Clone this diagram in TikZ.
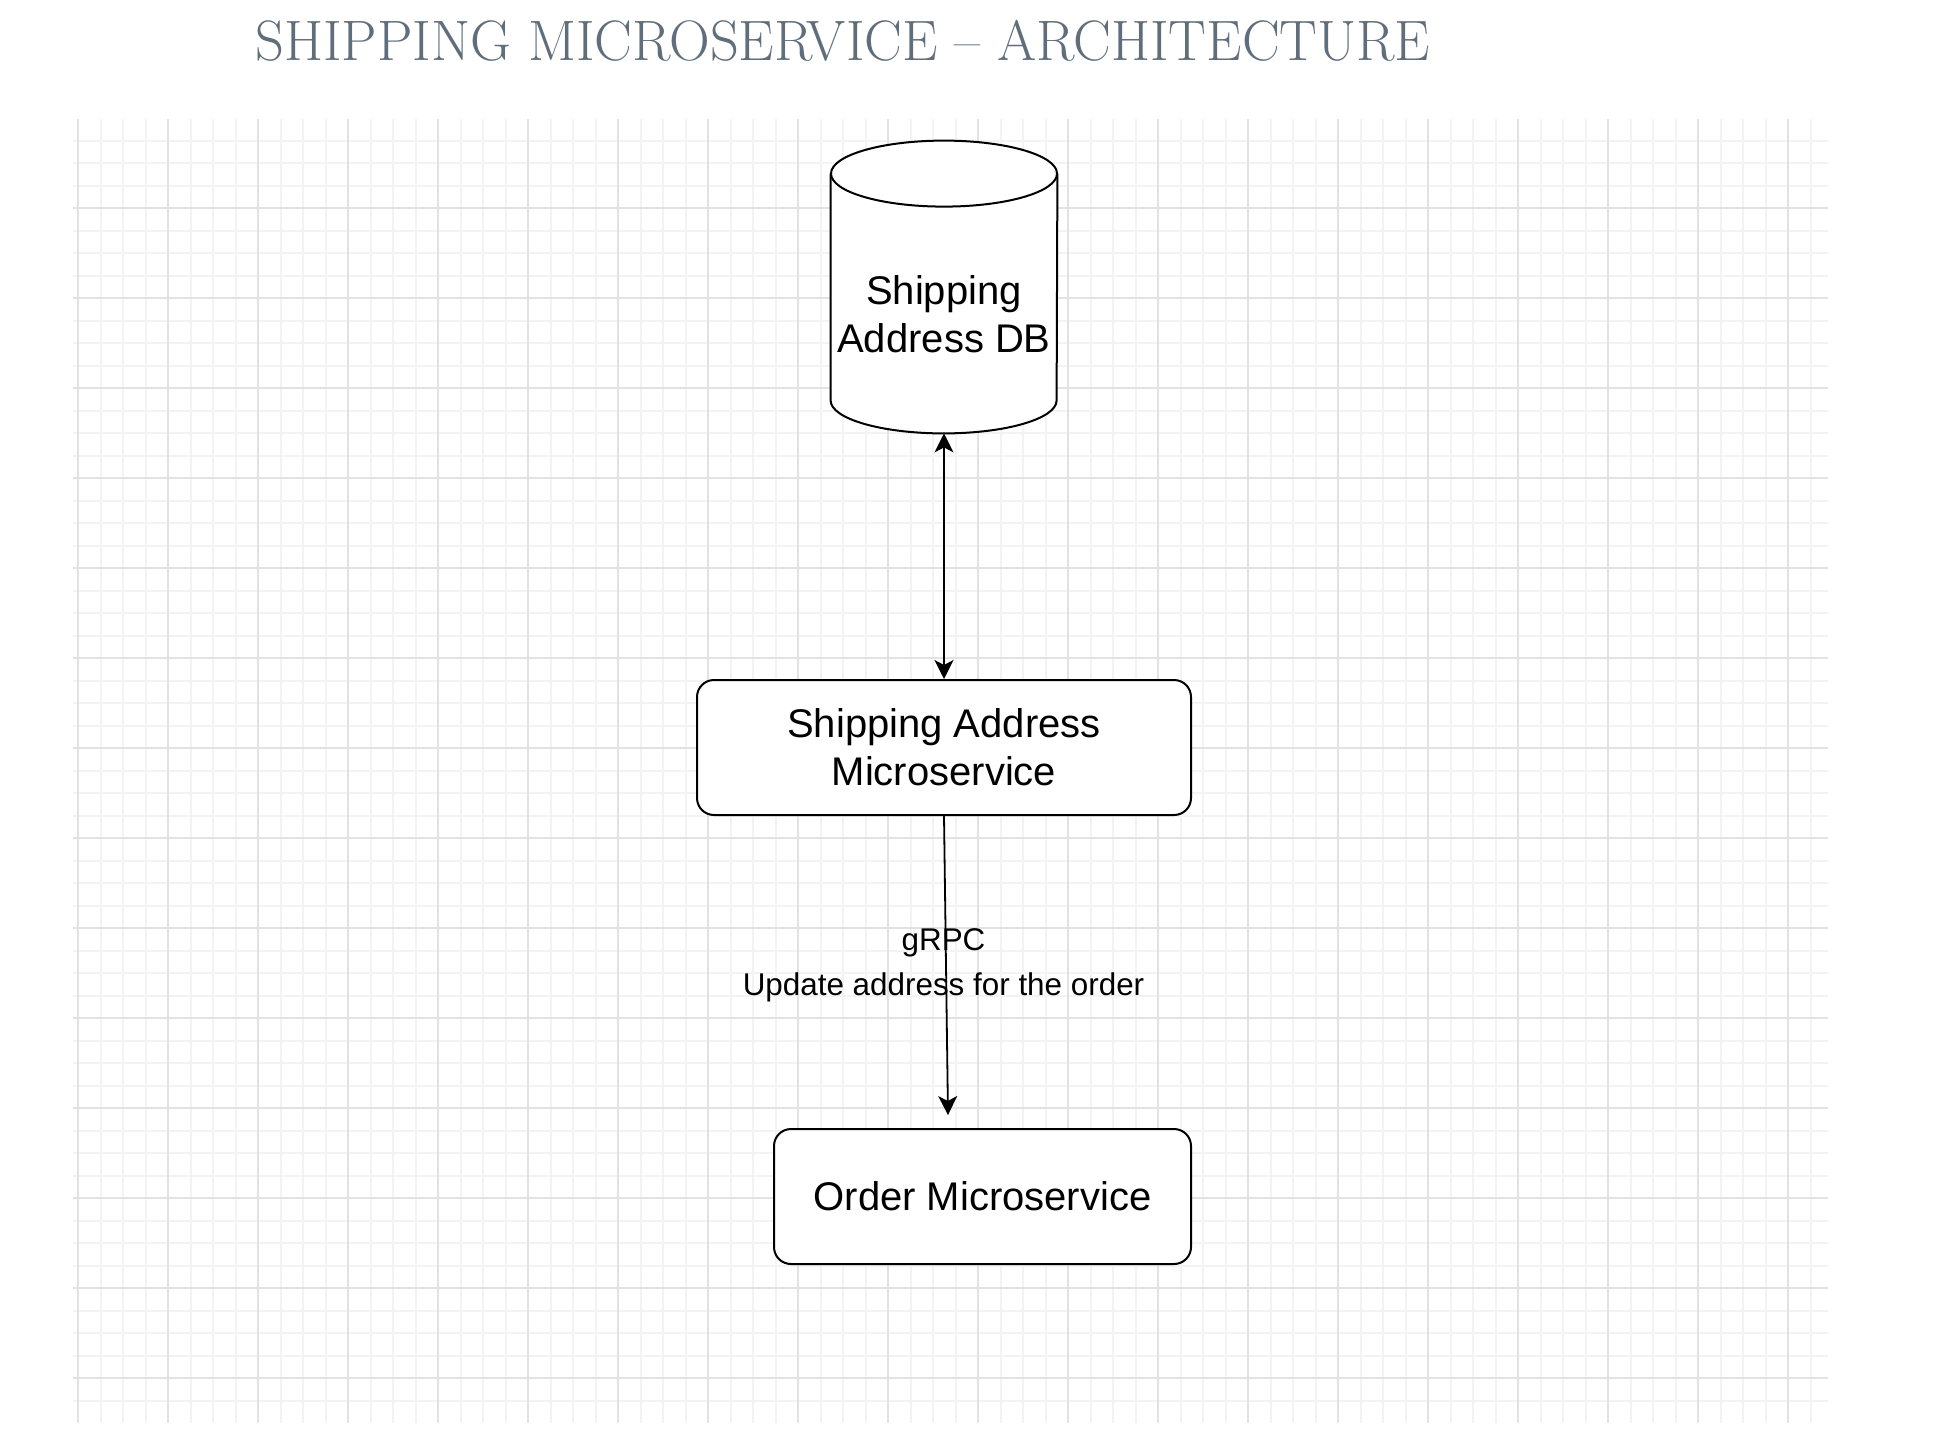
\documentclass[tikz,border=0pt]{standalone}
\usepackage{fontspec}
\usepackage{graphicx}
\usetikzlibrary{arrows.meta,calc}
\newfontfamily\drawiofont{Liberation Sans}
\definecolor{titlegray}{RGB}{95,110,122}
\definecolor{gridminor}{RGB}{243,243,243}
\definecolor{gridmajor}{RGB}{226,226,226}

\begin{document}
\begin{tikzpicture}[x=0.5pt,y=-0.5pt,
    minorline/.style={gridminor,line width=1pt},
    majorline/.style={gridmajor,line width=1pt},
    service/.style={draw,line width=1pt,fill=white,rounded corners=8.5pt,inner sep=0pt,
      minimum height=67.5pt,align=center,font=\drawiofont\fontsize{20}{24}\selectfont},
    dbtext/.style={align=center,inner sep=0pt,font=\drawiofont\fontsize{20}{24}\selectfont},
    edgetext/.style={align=center,inner sep=0pt,font=\drawiofont\fontsize{15.7}{22.5}\selectfont},
    link/.style={line width=0.9pt,black}]
    \fill[white] (0,0) rectangle (1952,1436);
    \useasboundingbox (0,0) rectangle (1952,1436);
    \foreach \i in {0,...,77} \draw[minorline] ({78+22.5*\i},119) -- ({78+22.5*\i},1423);
    \foreach \j in {0,...,56} \draw[minorline] (73,{140.5+22.5*\j}) -- (1828,{140.5+22.5*\j});
    \foreach \i in {0,...,19} \draw[majorline] ({78+90*\i},119) -- ({78+90*\i},1423);
    \foreach \j in {0,...,13} \draw[majorline] (73,{208+90*\j}) -- (1828,{208+90*\j});
    \node (title) at (255,60) [anchor=base west,inner sep=0pt,text=titlegray,
      font=\fontsize{28.5}{30}\selectfont] {\scalebox{0.99}[1]{SHIPPING MICROSERVICE -- ARCHITECTURE}};
    \node (db) at (944,287) [inner sep=0pt,minimum width=113pt,minimum height=146pt] {};
    \draw[line width=1pt,fill=white] ($(db.north west)+(0,33)$) -- ($(db.south west)+(0,-33)$)
      arc[start angle=180,end angle=0,x radius=113,y radius=33] -- ($(db.north east)+(0,33)$);
    \draw[line width=1pt,fill=white] ($(db.north)+(0,33)$) ellipse[x radius=113,y radius=33];
    \node (dbname) at (944,314.5) [dbtext] {Shipping\\Address DB};
    \node (sams) at (944,747.5) [service,minimum width=247pt] {Shipping Address\\Microservice};
    \node (oms) at (982.5,1196.5) [service,minimum width=208.5pt] {Order Microservice};
    \coordinate (grpcend) at (948,1115);
    \draw[link,{Stealth[length=9.5pt,width=9.5pt,inset=2.5pt]}-{Stealth[length=9.5pt,width=9.5pt,inset=2.5pt]}] (db.south) -- (sams.north);
    \draw[link,-{Stealth[length=9.5pt,width=9.5pt,inset=2.5pt]}] (sams.south) -- (grpcend);
    \node (grpc) at (943.5,965.5) [edgetext] {gRPC\\Update address for the order};
\end{tikzpicture}
\end{document}
